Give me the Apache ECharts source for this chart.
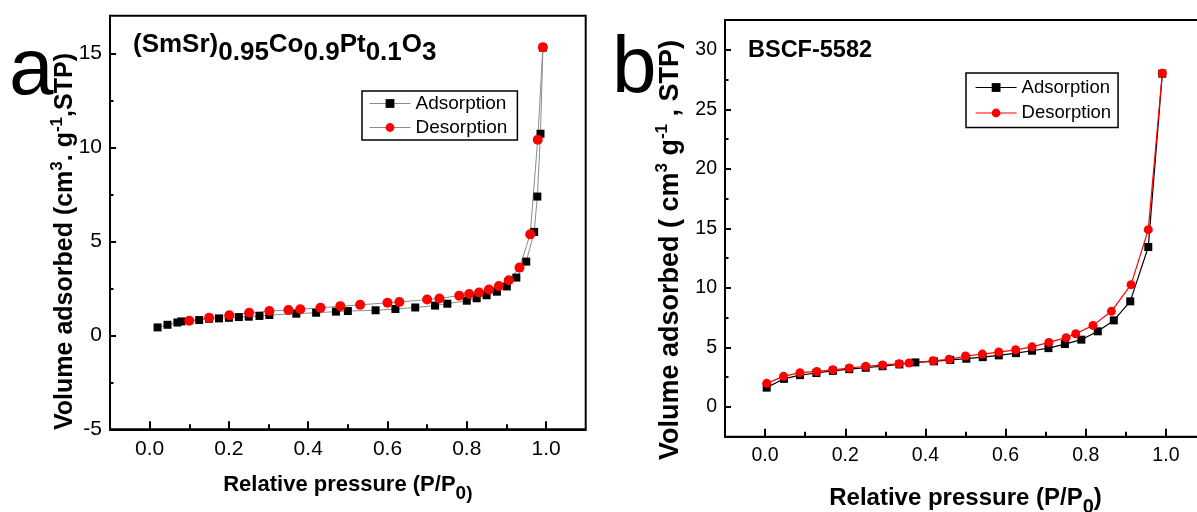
<!DOCTYPE html>
<html>
<head>
<meta charset="utf-8">
<title>N2 adsorption–desorption isotherms</title>
<script src="https://cdn.jsdelivr.net/npm/echarts@6/dist/echarts.min.js"></script>
<style>
  html, body { margin: 0; padding: 0; background: #fff; }
  #chart { width: 1197px; height: 512px; }
</style>
</head>
<body>
<div id="chart"></div>
<script>
// ---- axis ticks -------------------------------------------------------
const xMajorTicks = [0, 0.2, 0.4, 0.6, 0.8, 1.0];
const xMinorTicks = [0.1, 0.3, 0.5, 0.7, 0.9];
const yMajorTicksA = [-5, 0, 5, 10, 15];
const yMinorTicksA = [-2.5, 2.5, 7.5, 12.5];
const yMajorTicksB = [0, 5, 10, 15, 20, 25, 30];
const yMinorTicksB = [2.5, 7.5, 12.5, 17.5, 22.5, 27.5];

// ---- panel a: (SmSr)0.95Co0.9Pt0.1O3 -----------------------------------
const adsPressureA = [0.020, 0.045, 0.070, 0.080, 0.125, 0.150, 0.175, 0.200, 0.225, 0.250, 0.277, 0.302,
  0.370, 0.420, 0.470, 0.500, 0.570, 0.620, 0.670, 0.720, 0.751, 0.800, 0.825, 0.850, 0.876, 0.901,
  0.925, 0.950, 0.970, 0.978, 0.986, 0.992];
const adsVolumeA = [0.42, 0.56, 0.68, 0.74, 0.81, 0.88, 0.90, 0.93, 0.97, 0.99, 1.03, 1.08,
  1.15, 1.20, 1.26, 1.29, 1.33, 1.40, 1.48, 1.58, 1.68, 1.84, 1.97, 2.13, 2.32, 2.60,
  3.07, 3.92, 5.50, 7.38, 10.72, 15.30];
const desPressureA = [0.992, 0.979, 0.960, 0.933, 0.906, 0.881, 0.856, 0.831, 0.806, 0.781, 0.731, 0.700,
  0.630, 0.600, 0.531, 0.481, 0.431, 0.380, 0.350, 0.302, 0.251, 0.201, 0.150, 0.100];
const desVolumeA = [15.32, 10.40, 5.37, 3.60, 2.93, 2.62, 2.44, 2.28, 2.20, 2.11, 1.96, 1.90,
  1.77, 1.73, 1.62, 1.55, 1.46, 1.39, 1.34, 1.29, 1.20, 1.07, 0.93, 0.77];

// ---- panel b: BSCF-5582 ------------------------------------------------
const adsPressureB = [0.004, 0.047, 0.087, 0.128, 0.169, 0.210, 0.251, 0.293, 0.335, 0.375, 0.421, 0.462,
  0.502, 0.543, 0.583, 0.626, 0.666, 0.707, 0.748, 0.789, 0.830, 0.870, 0.911, 0.956, 0.991];
const adsVolumeB = [1.62, 2.36, 2.67, 2.85, 3.03, 3.17, 3.29, 3.42, 3.57, 3.74, 3.83, 3.95,
  4.05, 4.18, 4.33, 4.52, 4.72, 4.94, 5.28, 5.65, 6.35, 7.27, 8.87, 13.43, 28.00];
const desPressureB = [0.991, 0.956, 0.913, 0.864, 0.818, 0.775, 0.751, 0.708, 0.666, 0.625, 0.583, 0.542,
  0.500, 0.459, 0.419, 0.359, 0.334, 0.293, 0.251, 0.210, 0.169, 0.129, 0.087, 0.046, 0.004];
const desVolumeB = [28.03, 14.89, 10.27, 8.03, 6.85, 6.15, 5.82, 5.42, 5.05, 4.80, 4.61, 4.44,
  4.28, 4.00, 3.88, 3.69, 3.62, 3.53, 3.41, 3.27, 3.12, 2.98, 2.88, 2.57, 1.98];

const FONT = "'Liberation Sans', Arial, Helvetica, sans-serif";
const zip = (xs, ys) => xs.map((x, i) => [x, ys[i]]);

function xAxisPair(gridIndex, labelSize, nameText, nameRich, nameGap) {
  return [
    {
      type: 'value', gridIndex, position: 'bottom', min: -0.1, max: 1.1,
      axisLine: { show: true, onZero: false, lineStyle: { color: '#000', width: 2 } },
      axisTick: { show: true, inside: true, length: 8, customValues: xMajorTicks, lineStyle: { color: '#000', width: 2 } },
      axisLabel: { show: true, customValues: xMajorTicks, formatter: v => Number(v).toFixed(1), margin: 9,
        fontSize: labelSize, fontFamily: FONT, color: '#000' },
      splitLine: { show: false },
      name: nameText, nameLocation: 'middle', nameGap,
      nameTextStyle: { fontFamily: FONT, color: '#000', rich: nameRich }
    },
    {
      type: 'value', gridIndex, position: 'bottom', min: -0.1, max: 1.1,
      axisLine: { show: false, onZero: false },
      axisTick: { show: true, inside: true, length: 5, customValues: xMinorTicks, lineStyle: { color: '#000', width: 2 } },
      axisLabel: { show: false },
      splitLine: { show: false }
    }
  ];
}

function yAxisPair(gridIndex, min, max, major, minor, labelSize) {
  return [
    {
      type: 'value', gridIndex, position: 'left', min, max,
      axisLine: { show: true, onZero: false, lineStyle: { color: '#000', width: 2 } },
      axisTick: { show: true, inside: true, length: 6, customValues: major, lineStyle: { color: '#000', width: 2 } },
      axisLabel: { show: true, customValues: major, margin: 8, fontSize: labelSize, fontFamily: FONT, color: '#000' },
      splitLine: { show: false }
    },
    {
      type: 'value', gridIndex, position: 'left', min, max,
      axisLine: { show: false, onZero: false },
      axisTick: { show: true, inside: true, length: 3.5, customValues: minor, lineStyle: { color: '#000', width: 2 } },
      axisLabel: { show: false },
      splitLine: { show: false }
    }
  ];
}

const chart = echarts.init(document.getElementById('chart'), null, { renderer: 'canvas' });

const option = {
  animation: false,
  backgroundColor: '#fff',
  grid: [
    { left: 110, top: 15.7, width: 475.7, height: 413.6, outerBoundsMode: 'none',
      show: true, borderColor: '#000', borderWidth: 2, backgroundColor: 'transparent' },
    { left: 725, top: 20, width: 481, height: 416.7, outerBoundsMode: 'none',
      show: true, borderColor: '#000', borderWidth: 2, backgroundColor: 'transparent' }
  ],
  xAxis: [
    ...xAxisPair(0, 21, '{m|Relative pressure (P/P}{s|0)}', {
      m: { fontSize: 22, fontWeight: 'bold', fontFamily: FONT, lineHeight: 36, verticalAlign: 'middle' },
      s: { fontSize: 19, fontWeight: 'bold', fontFamily: FONT, lineHeight: 19, verticalAlign: 'bottom' }
    }, 38),
    ...xAxisPair(1, 19.5, '{m|Relative pressure (P/P}{s|0}{m|)}', {
      m: { fontSize: 24, fontWeight: 'bold', fontFamily: FONT, lineHeight: 38, verticalAlign: 'middle' },
      s: { fontSize: 20, fontWeight: 'bold', fontFamily: FONT, lineHeight: 20, verticalAlign: 'bottom' }
    }, 43)
  ],
  yAxis: [
    ...yAxisPair(0, -5, 17, yMajorTicksA, yMinorTicksA, 21),
    ...yAxisPair(1, -2.5, 32.5, yMajorTicksB, yMinorTicksB, 19.5)
  ],
  legend: [
    {
      orient: 'vertical', left: 362, top: 91, itemWidth: 41, itemHeight: 11, itemGap: 5,
      padding: [3, 10, 3, 7], borderColor: '#000', borderWidth: 1.5, selectedMode: false,
      textStyle: { fontSize: 19, fontFamily: FONT, color: '#000' },
      data: [
        { name: 'Adsorption', itemStyle: { color: '#000' }, lineStyle: { color: '#8c8c8c', width: 1 } },
        { name: 'Desorption', itemStyle: { color: '#ff0000' }, lineStyle: { color: '#8c8c8c', width: 1 } }
      ]
    },
    {
      orient: 'vertical', left: 966, top: 73, itemWidth: 41, itemHeight: 11, itemGap: 6.5,
      padding: [5, 7, 5, 9], borderColor: '#000', borderWidth: 1.5, selectedMode: false,
      textStyle: { fontSize: 18.5, fontFamily: FONT, color: '#000' },
      data: [
        { name: 'Adsorption', itemStyle: { color: '#000' }, lineStyle: { color: '#000', width: 1.2 } },
        { name: 'Desorption', itemStyle: { color: '#ff0000' }, lineStyle: { color: '#ff0000', width: 1.2 } }
      ]
    }
  ],
  series: [
    {
      name: 'Adsorption', type: 'line', xAxisIndex: 0, yAxisIndex: 0,
      data: zip(adsPressureA, adsVolumeA), symbol: 'rect', symbolSize: 8,
      itemStyle: { color: '#000' }, lineStyle: { color: '#8c8c8c', width: 1 }
    },
    {
      name: 'Desorption', type: 'line', xAxisIndex: 0, yAxisIndex: 0,
      data: zip(desPressureA, desVolumeA), symbol: 'circle', symbolSize: 10,
      itemStyle: { color: '#ff0000' }, lineStyle: { color: '#8c8c8c', width: 1 }
    },
    {
      name: 'Adsorption', type: 'line', xAxisIndex: 2, yAxisIndex: 2,
      data: zip(adsPressureB, adsVolumeB), symbol: 'rect', symbolSize: 8,
      itemStyle: { color: '#000' }, lineStyle: { color: '#000', width: 1.2 }
    },
    {
      name: 'Desorption', type: 'line', xAxisIndex: 2, yAxisIndex: 2,
      data: zip(desPressureB, desVolumeB), symbol: 'circle', symbolSize: 9,
      itemStyle: { color: '#ff0000' }, lineStyle: { color: '#ff0000', width: 1.2 }
    }
  ],
  graphic: [
    // panel letters
    { type: 'text', x: 9, y: 72, style: { text: 'a', fontSize: 80, fontFamily: FONT, fill: '#000', align: 'left', verticalAlign: 'middle' } },
    { type: 'text', x: 612, y: 70, style: { text: 'b', fontSize: 80, fontFamily: FONT, fill: '#000', align: 'left', verticalAlign: 'middle' } },
    // sample names
    {
      type: 'text', x: 133, y: 32,
      style: {
        text: '{e|(SmSr)}{n|0.95}{e|Co}{n|0.9}{e|Pt}{n|0.1}{e|O}{n|3}',
        align: 'left', verticalAlign: 'top', fill: '#000',
        rich: {
          e: { fontSize: 26, fontWeight: 'bold', fontFamily: FONT, lineHeight: 26, verticalAlign: 'top' },
          n: { fontSize: 26, fontWeight: 'bold', fontFamily: FONT, lineHeight: 34, verticalAlign: 'bottom' }
        }
      }
    },
    { type: 'text', x: 748, y: 51, style: { text: 'BSCF-5582', fontSize: 23.5, fontWeight: 'bold', fontFamily: FONT, fill: '#000', align: 'left', verticalAlign: 'middle' } },
    // y axis titles
    {
      type: 'text', x: 65.5, y: 241.5, rotation: Math.PI / 2,
      style: {
        text: '{m|Volume adsorbed (cm}{s|3}{m|. g}{s|-1}{m|,STP)}',
        align: 'center', verticalAlign: 'middle', fill: '#000',
        rich: {
          m: { fontSize: 25, fontWeight: 'bold', fontFamily: FONT, lineHeight: 34, verticalAlign: 'middle' },
          s: { fontSize: 17, fontWeight: 'bold', fontFamily: FONT, lineHeight: 14, verticalAlign: 'top' }
        }
      }
    },
    {
      type: 'text', x: 671, y: 250, rotation: Math.PI / 2,
      style: {
        text: '{m|Volume adsorbed ( cm}{s|3}{m| g}{s|-1}{m| , STP)}',
        align: 'center', verticalAlign: 'middle', fill: '#000',
        rich: {
          m: { fontSize: 27, fontWeight: 'bold', fontFamily: FONT, lineHeight: 34, verticalAlign: 'middle' },
          s: { fontSize: 17, fontWeight: 'bold', fontFamily: FONT, lineHeight: 14, verticalAlign: 'top' }
        }
      }
    }
  ]
};

chart.setOption(option);
</script>
</body>
</html>
